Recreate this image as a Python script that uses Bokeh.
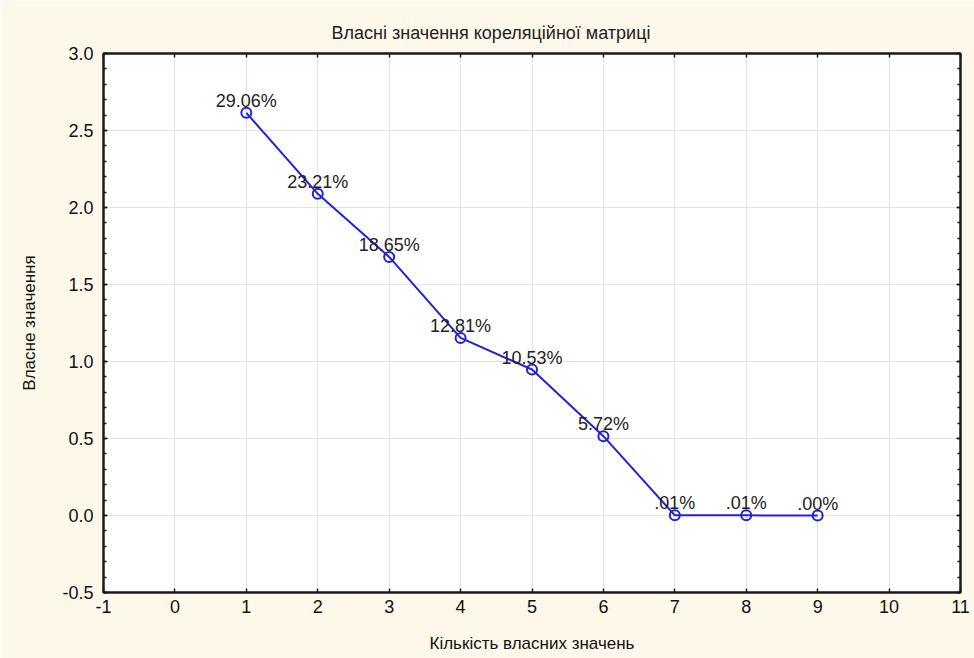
from bokeh.plotting import figure
from bokeh.models import (Range1d, LinearAxis, FixedTicker, SingleIntervalTicker,
                          PrintfTickFormatter, ColumnDataSource, Title, CustomLabelingPolicy)
from bokeh.core.properties import value
from bokeh.embed import file_html
from bokeh.resources import INLINE

# ---- data ----
components = [1, 2, 3, 4, 5, 6, 7, 8, 9]
eigenvalues = [2.615, 2.089, 1.679, 1.153, 0.948, 0.515, 0.001, 0.001, 0.000]
pct_labels = ["29.06%", "23.21%", "18.65%", "12.81%", "10.53%", "5.72%", ".01%", ".01%", ".00%"]
x_ticks = [-1, 0, 1, 2, 3, 4, 5, 6, 7, 8, 9, 10, 11]

title_text = "Власні значення кореляційної матриці"
x_label = "Кількість власних значень"
y_label = "Власне значення"

FONT = "Liberation Sans"
BG = "#fdf8ea"
BLUE = "#2222d4"
AX = "#1a1a1a"

p = figure(width=974, height=658, output_backend="svg", toolbar_location=None,
           x_range=Range1d(-1, 11), y_range=Range1d(-0.5, 3.0),
           min_border_left=103, min_border_right=14, min_border_top=53, min_border_bottom=66,
           x_axis_location=None, y_axis_location=None)
p.background_fill_color = "white"
p.border_fill_color = BG
p.outline_line_color = AX
p.outline_line_width = 2

# title
p.title = Title(text=title_text, align="left", offset=228, standoff=14,
                text_font=FONT, text_font_size="18px", text_font_style="normal",
                text_color="#222222")

xt = FixedTicker(ticks=x_ticks)
yt = SingleIntervalTicker(interval=0.5, num_minor_ticks=5)

def style_axis(ax, labels=True):
    ax.axis_line_color = AX
    ax.axis_line_width = 2
    ax.major_tick_line_color = AX
    ax.major_tick_line_width = 1.5
    ax.minor_tick_line_color = AX
    ax.minor_tick_line_width = 1.5
    ax.major_tick_in = 4
    ax.major_tick_out = 0
    ax.minor_tick_in = 3
    ax.minor_tick_out = 0
    if labels:
        ax.major_label_text_font = FONT
        ax.major_label_text_font_size = "18px"
        ax.major_label_text_color = "#111111"
        ax.axis_label_text_font = FONT
        ax.axis_label_text_font_size = "17px"
        ax.axis_label_text_font_style = "normal"
        ax.axis_label_text_color = "#111111"
    else:
        ax.major_label_text_font_size = "1px"
        ax.major_label_standoff = 0
        ax.major_label_policy = CustomLabelingPolicy(code="return [];")

xb = LinearAxis(ticker=xt, formatter=PrintfTickFormatter(format="%d"), axis_label=x_label)
style_axis(xb)
xb.minor_tick_in = 0
xb.major_label_standoff = 7
xb.axis_label_standoff = 18
p.add_layout(xb, "below")

xa = LinearAxis(ticker=xt)
style_axis(xa, labels=False)
xa.minor_tick_in = 0
p.add_layout(xa, "above")

yl = LinearAxis(ticker=yt, formatter=PrintfTickFormatter(format="%.1f"), axis_label=y_label)
style_axis(yl)
yl.major_label_standoff = 10
yl.axis_label_standoff = 20
p.add_layout(yl, "left")

yr = LinearAxis(ticker=yt)
style_axis(yr, labels=False)
p.add_layout(yr, "right")

p.xgrid.ticker = xt
p.ygrid.ticker = yt
for g in (p.xgrid, p.ygrid):
    g.grid_line_color = "#e3e3e3"
    g.grid_line_width = 1

src = ColumnDataSource(dict(x=components, y=eigenvalues, lab=pct_labels))
p.line("x", "y", source=src, line_color=BLUE, line_width=2)
p.scatter("x", "y", source=src, marker="circle", size=10, fill_color=None,
          line_color=BLUE, line_width=2)
p.text("x", "y", text="lab", source=src, text_align="center", text_baseline="alphabetic",
       y_offset=-12, text_font=value(FONT), text_font_size="18px", text_color="#222222")

open("out.html", "w").write(file_html(p, INLINE))
